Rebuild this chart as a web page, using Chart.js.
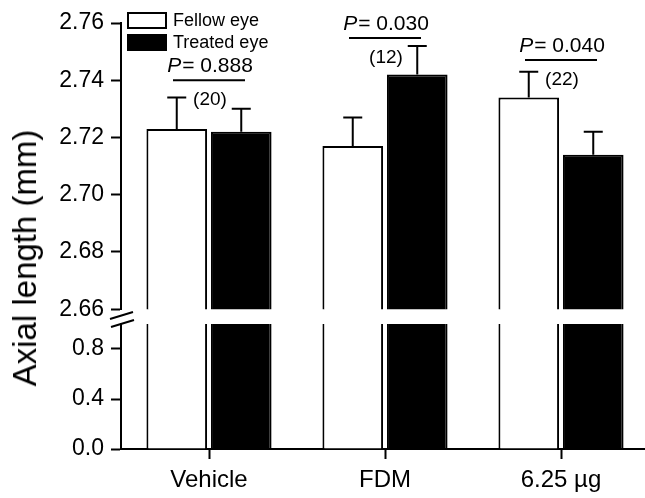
<!DOCTYPE html>
<html>
<head>
<meta charset="utf-8">
<script src="https://cdn.jsdelivr.net/npm/chart.js@4.4.1/dist/chart.umd.min.js"></script>
<style>
  html, body { margin: 0; padding: 0; background: #fff; overflow: hidden; }
  #wrap { position: relative; width: 645px; height: 498px; overflow: hidden; }
  #topBox { position: absolute; left: 0; top: 0; width: 649px; height: 330px; }
  #botBox { position: absolute; left: 0; top: 300px; width: 649px; height: 198px; }
  #ytitle {
    position: absolute; left: 25px; top: 258px;
    transform: translate(-50%, -50%) rotate(-90deg);
    white-space: nowrap; color: #000;
    font: 33px 'Liberation Sans', Arial, sans-serif;
  }
</style>
</head>
<body>
<div id="wrap">
  <div id="botBox"><canvas id="botChart"></canvas></div>
  <div id="topBox"><canvas id="topChart"></canvas></div>
  <div id="ytitle">Axial length (mm)</div>
</div>
<script>
// data
const groups = ['Vehicle', 'FDM', '6.25 µg'];
const fellowEye = [2.723, 2.717, 2.734];
const treatedEye = [2.722, 2.742, 2.714];
const fellowErr = [0.011, 0.010, 0.009];
const treatedErr = [0.008, 0.010, 0.008];
const pValues = ['0.888', '0.030', '0.040'];
const nCounts = ['(20)', '(12)', '(22)'];
const sigLineAt = [2.740, 2.7548, 2.7471];   // y value of the bracket line
const upperTicks = [2.66, 2.76];             // upper segment range
const lowerTicks = [0, 1.0];                 // lower segment range

Chart.defaults.font.family = "'Liberation Sans', Arial, sans-serif";
Chart.defaults.color = '#000';
Chart.defaults.animation = false;

function makeDatasets() {
  return [
    { label: 'Fellow eye', data: fellowEye, backgroundColor: '#fff', borderColor: '#000', borderWidth: 2, clip: 0,
      categoryPercentage: 0.733, barPercentage: 0.94 },
    { label: 'Treated eye', data: treatedEye, backgroundColor: '#000', borderColor: '#000', borderWidth: 2, clip: 0,
      categoryPercentage: 0.733, barPercentage: 0.94 }
  ];
}

function yGrid(hideIdx) {
  return {
    drawOnChartArea: false,
    tickLength: 10,
    tickWidth: 2,
    tickColor: (c) => (hideIdx && hideIdx(c.index)) ? 'rgba(0,0,0,0)' : '#000',
    tickBorderDash: (c) => c.index % 2 ? [5, 5] : [],
    tickBorderDashOffset: 5
  };
}

// error bars, only needed on the upper part
const errorBars = {
  id: 'errorBars',
  afterDatasetsDraw(chart) {
    const ctx = chart.ctx;
    const y = chart.scales.y;
    const errs = [fellowErr, treatedErr];
    ctx.save();
    ctx.strokeStyle = '#000';
    ctx.lineWidth = 2;
    chart.data.datasets.forEach((ds, i) => {
      chart.getDatasetMeta(i).data.forEach((bar, j) => {
        const top = y.getPixelForValue(ds.data[j] + errs[i][j]);
        ctx.beginPath();
        ctx.moveTo(bar.x, bar.y);
        ctx.lineTo(bar.x, top);
        ctx.moveTo(bar.x - 9.5, top);
        ctx.lineTo(bar.x + 9.5, top);
        ctx.stroke();
      });
    });
    ctx.restore();
  }
};

// P value brackets and n labels
const sigMarks = {
  id: 'sigMarks',
  afterDraw(chart) {
    const ctx = chart.ctx;
    const x = chart.scales.x, y = chart.scales.y;
    ctx.save();
    ctx.strokeStyle = '#000';
    ctx.fillStyle = '#000';
    ctx.lineWidth = 2;
    groups.forEach((g, j) => {
      const cx = x.getPixelForValue(j);
      const ly = y.getPixelForValue(sigLineAt[j]);
      ctx.beginPath();
      ctx.moveTo(cx - 36, ly);
      ctx.lineTo(cx + 36, ly);
      ctx.stroke();

      const rest = '= ' + pValues[j];
      ctx.font = "italic 21px 'Liberation Sans', Arial, sans-serif";
      const wP = ctx.measureText('P').width + 1;
      ctx.font = "21px 'Liberation Sans', Arial, sans-serif";
      const wR = ctx.measureText(rest).width;
      let sx = cx + 1 - (wP + wR) / 2;
      ctx.textBaseline = 'alphabetic';
      ctx.textAlign = 'left';
      ctx.font = "italic 21px 'Liberation Sans', Arial, sans-serif";
      ctx.fillText('P', sx, ly - 8);
      ctx.font = "21px 'Liberation Sans', Arial, sans-serif";
      ctx.fillText(rest, sx + wP, ly - 8);

      ctx.font = "19px 'Liberation Sans', Arial, sans-serif";
      ctx.textAlign = 'center';
      ctx.textBaseline = 'middle';
      ctx.fillText(nCounts[j], cx + 1, ly + 20);
    });
    ctx.restore();
  }
};

// legend in the top left corner of the plot
const boxLegend = {
  id: 'boxLegend',
  afterDraw(chart) {
    const ctx = chart.ctx;
    const left = chart.chartArea.left + 6;
    const rows = [12, 34];
    ctx.save();
    ctx.font = "18px 'Liberation Sans', Arial, sans-serif";
    ctx.textBaseline = 'middle';
    ctx.textAlign = 'left';
    chart.data.datasets.forEach((ds, i) => {
      const top = rows[i];
      ctx.fillStyle = ds.backgroundColor;
      ctx.fillRect(left, top, 40, 17);
      ctx.strokeStyle = ds.borderColor;
      ctx.lineWidth = 2;
      ctx.strokeRect(left + 1, top + 1, 38, 15);
      ctx.fillStyle = '#000';
      ctx.fillText(ds.label, left + 46, top + 9);
    });
    ctx.restore();
  }
};

// the // marks on the broken axis
const axisBreak = {
  id: 'axisBreak',
  afterDraw(chart) {
    const ctx = chart.ctx;
    const ax = chart.chartArea.left - 1;
    const top = chart.chartArea.top;
    ctx.save();
    ctx.strokeStyle = '#000';
    ctx.lineWidth = 2;
    ctx.beginPath();
    ctx.moveTo(ax - 10, top - 5);
    ctx.lineTo(ax + 13, top - 12);
    ctx.moveTo(ax - 9, top + 3);
    ctx.lineTo(ax + 14, top - 4);
    ctx.stroke();
    ctx.restore();
  }
};

const topChart = new Chart(document.getElementById('topChart'), {
  type: 'bar',
  data: { labels: groups, datasets: makeDatasets() },
  options: {
    responsive: true,
    maintainAspectRatio: false,
    layout: { padding: { top: 23, bottom: 13, left: 0, right: 0 } },
    plugins: { legend: { display: false }, tooltip: { enabled: false } },
    scales: {
      x: { display: false },
      y: {
        min: upperTicks[0],
        max: upperTicks[1],
        afterFit: (s) => { s.width = 121; },
        border: { display: true, width: 2, color: '#000' },
        grid: yGrid(),
        ticks: {
          stepSize: 0.01,
          padding: 7,
          font: { size: 23 },
          color: '#000',
          callback: (v, i) => i % 2 === 0 ? Number(v).toFixed(2) : ''
        }
      }
    }
  },
  plugins: [errorBars, sigMarks, boxLegend]
});

const botChart = new Chart(document.getElementById('botChart'), {
  type: 'bar',
  data: { labels: groups, datasets: makeDatasets() },
  options: {
    responsive: true,
    maintainAspectRatio: false,
    layout: { padding: { top: 24, bottom: 0, left: 0, right: 0 } },
    plugins: { legend: { display: false }, tooltip: { enabled: false } },
    scales: {
      x: {
        afterFit: (s) => { s.height = 49; },
        border: { display: true, width: 2, color: '#000' },
        grid: { offset: false, drawOnChartArea: false, tickLength: 10, tickWidth: 2, tickColor: '#000' },
        ticks: { font: { size: 24 }, color: '#000', padding: 7 }
      },
      y: {
        min: lowerTicks[0],
        max: lowerTicks[1],
        afterFit: (s) => { s.width = 121; },
        border: { display: true, width: 2, color: '#000' },
        grid: yGrid((i) => i === 5),
        ticks: {
          stepSize: 0.2,
          padding: 7,
          font: { size: 23 },
          color: '#000',
          callback: (v, i) => (i % 2 === 0 && i < 5) ? Number(v).toFixed(1) : ''
        }
      }
    }
  },
  plugins: [axisBreak]
});
</script>
</body>
</html>
